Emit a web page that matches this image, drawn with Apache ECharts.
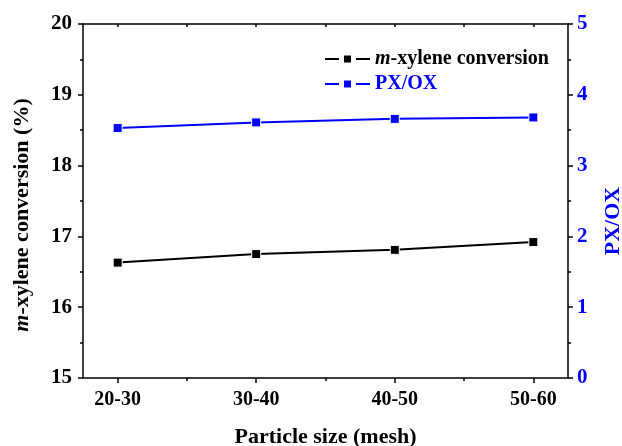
<!DOCTYPE html>
<html>
<head>
<meta charset="utf-8">
<script src="https://cdn.jsdelivr.net/npm/echarts@6/dist/echarts.min.js"></script>
<style>
html,body{margin:0;padding:0;background:#fff;}
#chart{width:622px;height:446px;}
</style>
</head>
<body>
<div id="chart"></div>
<script>
const categories = ['20-30', '30-40', '40-50', '50-60'];
const conversion = [16.63, 16.75, 16.81, 16.92];
const pxox = [3.53, 3.61, 3.66, 3.68];
const majorX = [0, 1, 2, 3];
const minorX = [0.5, 1.5, 2.5];

const FONT = 'Liberation Serif, Times New Roman, serif';
const BLUE = '#0000ff';

const chart = echarts.init(document.getElementById('chart'), null, {renderer: 'canvas'});

const pair = (arr) => arr.map((v, i) => [i, v]);

const xBase = {
  type: 'value', min: -0.25, max: 3.25,
  splitLine: {show: false}
};

chart.setOption({
  backgroundColor: '#fff',
  animation: false,
  grid: {left: 83, right: 54, top: 24, bottom: 68, containLabel: false, outerBoundsMode: 'none'},
  legend: {
    left: 319, top: 44, orient: 'vertical', itemWidth: 45, itemHeight: 15, itemGap: 5,
    textStyle: {fontFamily: FONT, fontSize: 20, fontWeight: 'bold',
      rich: {i: {fontFamily: FONT, fontSize: 20, fontWeight: 'bold', fontStyle: 'italic', color: '#000'}}},
    data: [
      {name: 'conv', textStyle: {color: '#000'}, itemStyle: {borderColor: '#fff', borderWidth: 5}},
      {name: 'PX/OX', textStyle: {color: BLUE}, itemStyle: {borderColor: '#fff', borderWidth: 5}}
    ],
    formatter: (n) => n === 'conv' ? '{i|m}-xylene conversion' : n
  },
  xAxis: [
    Object.assign({}, xBase, {
      position: 'bottom',
      axisLine: {show: true, onZero: false, lineStyle: {color: '#000', width: 1.5}},
      axisTick: {show: true, length: 5, customValues: majorX, lineStyle: {color: '#000', width: 1.5}},
      axisLabel: {customValues: majorX, formatter: (v) => categories[Math.round(v)] || '',
        color: '#000', fontFamily: FONT, fontSize: 20, fontWeight: 'bold', margin: 12},
      name: 'Particle size (mesh)', nameLocation: 'middle', nameGap: 48,
      nameTextStyle: {color: '#000', fontFamily: FONT, fontSize: 22, fontWeight: 'bold'}
    }),
    Object.assign({}, xBase, {
      position: 'bottom',
      axisLine: {show: false},
      axisTick: {show: true, length: 3, customValues: minorX, lineStyle: {color: '#000', width: 1.5}},
      axisLabel: {show: false}
    }),
    Object.assign({}, xBase, {
      position: 'top',
      axisLine: {show: true, onZero: false, lineStyle: {color: '#000', width: 1.5}},
      axisTick: {show: true, inside: true, length: 3, customValues: majorX.concat(minorX), lineStyle: {color: '#000', width: 1.5}},
      axisLabel: {show: false}
    })
  ],
  yAxis: [
    {
      type: 'value', min: 15, max: 20, interval: 1, position: 'left',
      splitLine: {show: false},
      axisLine: {show: true, onZero: false, lineStyle: {color: '#000', width: 1.5}},
      axisTick: {show: true, length: 5, lineStyle: {color: '#000', width: 1.5}},
      minorTick: {show: true, splitNumber: 2, length: 3, lineStyle: {color: '#000', width: 1.5}},
      axisLabel: {color: '#000', fontFamily: FONT, fontSize: 21, fontWeight: 'bold', margin: 11}
    },
    {
      type: 'value', min: 0, max: 5, interval: 1, position: 'right',
      splitLine: {show: false},
      axisLine: {show: true, onZero: false, lineStyle: {color: '#000', width: 1.5}},
      axisTick: {show: true, length: 5, lineStyle: {color: '#000', width: 1.5}},
      minorTick: {show: true, splitNumber: 2, length: 3, lineStyle: {color: '#000', width: 1.5}},
      axisLabel: {color: BLUE, fontFamily: FONT, fontSize: 21, fontWeight: 'bold', margin: 9}
    }
  ],
  graphic: [
    {
      type: 'text', x: 22, y: 215, rotation: Math.PI / 2,
      style: {
        text: '{i|m}-xylene conversion (%)', fill: '#000',
        font: 'bold 22px ' + FONT, align: 'center', verticalAlign: 'middle',
        rich: {i: {fontFamily: FONT, fontSize: 22, fontWeight: 'bold', fontStyle: 'italic', fill: '#000'}}
      }
    },
    {
      type: 'text', x: 613, y: 221, rotation: Math.PI / 2,
      style: {
        text: 'PX/OX', fill: BLUE, font: 'bold 22px ' + FONT,
        align: 'center', verticalAlign: 'middle'
      }
    }
  ],
  series: [
    {
      name: 'conv', type: 'line', xAxisIndex: 0, yAxisIndex: 0,
      data: pair(conversion), symbol: 'rect', symbolSize: 9,
      lineStyle: {color: '#000', width: 2},
      itemStyle: {color: '#000', borderColor: '#fff', borderWidth: 1}
    },
    {
      name: 'PX/OX', type: 'line', xAxisIndex: 0, yAxisIndex: 1,
      data: pair(pxox), symbol: 'rect', symbolSize: 9,
      lineStyle: {color: BLUE, width: 2},
      itemStyle: {color: BLUE, borderColor: '#fff', borderWidth: 1}
    }
  ]
});
</script>
</body>
</html>
